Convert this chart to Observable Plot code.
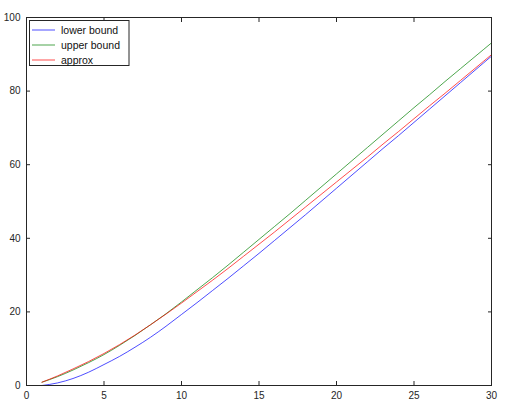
<!DOCTYPE html>
<html>
<head>
<meta charset="utf-8">
<script src="https://cdn.jsdelivr.net/npm/d3@7"></script>
<script src="https://cdn.jsdelivr.net/npm/@observablehq/plot@0.6"></script>
<style>
  html, body { margin: 0; padding: 0; background: #fff; }
  #chart svg { display: block; }
</style>
</head>
<body>
<div id="chart"></div>
<script>
const xs = [1,2,3,4,5,6,7,8,9,10,11,12,13,14,15,16,17,18,19,20,21,22,23,24,25,26,27,28,29,30];
const lowerBound = [0.0,0.7,1.9,3.6,5.7,7.9,10.4,13.1,16.1,19.3,22.5,25.8,29.1,32.5,35.9,39.4,42.9,46.4,50.0,53.6,57.2,60.8,64.4,67.9,71.5,75.1,78.7,82.3,85.9,89.5];
const upperBound = [0.9,2.4,4.2,6.2,8.4,10.9,13.6,16.5,19.5,22.7,26.0,29.3,32.7,36.2,39.7,43.2,46.7,50.3,53.9,57.5,61.1,64.7,68.3,71.9,75.5,79.0,82.6,86.1,89.6,93.1];
const approx = [0.9,2.6,4.5,6.5,8.7,11.1,13.7,16.5,19.4,22.4,25.5,28.6,31.8,35.1,38.4,41.7,45.1,48.5,51.9,55.3,58.7,62.1,65.6,69.0,72.5,76.0,79.4,82.9,86.4,89.9];
const seriesNames = ["lower bound", "upper bound", "approx"];
const seriesColors = ["#0000ff", "#008000", "#ff0000"];
const xTicks = [0,5,10,15,20,25,30];
const yTicks = [0,20,40,60,80,100];

const seriesValues = [lowerBound, upperBound, approx];
const rows = [];
seriesNames.forEach((name, s) => {
  xs.forEach((x, i) => rows.push({series: name, x, y: seriesValues[s][i]}));
});

const font = "'Liberation Sans', Arial, Helvetica, sans-serif";
const axisColor = "#262626";

const chart = Plot.plot({
  width: 509,
  height: 412,
  marginLeft: 26,
  marginRight: 18,
  marginTop: 17,
  marginBottom: 27,
  style: {fontFamily: font, fontSize: "10px", color: axisColor, background: "#fff"},
  x: {domain: [0, 30], ticks: xTicks},
  y: {domain: [0, 100], ticks: yTicks},
  color: {domain: seriesNames, range: seriesColors},
  marks: [
    Plot.line(rows, {x: "x", y: "y", z: "series", stroke: "series", strokeWidth: 0.7, curve: "monotone-x"}),
    Plot.frame({stroke: axisColor, strokeWidth: 1}),
    Plot.axisX(xTicks, {anchor: "bottom", tickSize: -4, tickPadding: 10, label: null, stroke: axisColor, fill: axisColor}),
    Plot.axisX(xTicks, {anchor: "top", tickSize: -4, tickFormat: () => "", label: null, stroke: axisColor}),
    Plot.axisY(yTicks, {anchor: "left", tickSize: -4, tickPadding: 10, label: null, stroke: axisColor, fill: axisColor}),
    Plot.axisY(yTicks, {anchor: "right", tickSize: -4, tickFormat: () => "", label: null, stroke: axisColor})
  ]
});
document.getElementById("chart").appendChild(chart);

// legend (inside plot, top-left)
const svg = d3.select(chart);
const lg = svg.append("g").attr("font-family", font).attr("font-size", "10.5px").attr("text-anchor", "start");
lg.append("rect").attr("x", 29.5).attr("y", 20.5).attr("width", 99.5).attr("height", 45)
  .attr("fill", "#fff").attr("stroke", axisColor).attr("stroke-width", 1);
seriesNames.forEach((name, i) => {
  const cy = 30 + i * 15;
  lg.append("line").attr("x1", 32).attr("x2", 55).attr("y1", cy).attr("y2", cy)
    .attr("stroke", seriesColors[i]).attr("stroke-width", 0.7);
  lg.append("text").attr("x", 61).attr("y", cy).attr("dy", "0.35em")
    .attr("text-anchor", "start").attr("fill", "#111").text(name);
});
</script>
</body>
</html>
